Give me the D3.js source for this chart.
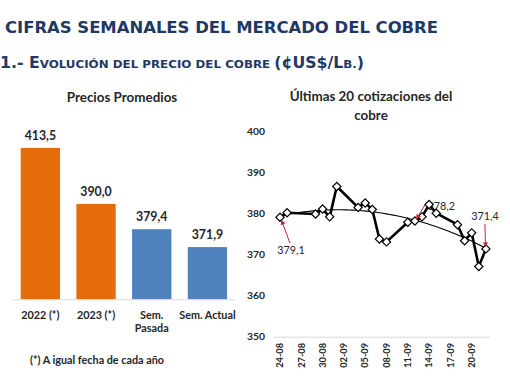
<!DOCTYPE html>
<html><head><meta charset="utf-8">
<script src="https://cdn.jsdelivr.net/npm/d3@7"></script>
<style>
html,body{margin:0;padding:0;background:#fff;}
svg{display:block;}
</style></head>
<body>
<svg id="c" width="510" height="382"></svg>
<script>
// ---- data ----
const barCategories = [["2022 (*)"], ["2023 (*)"], ["Sem.", "Pasada"], ["Sem. Actual"]];
const barValues = [413.5, 390.0, 379.4, 371.9];
const barLabels = ["413,5", "390,0", "379,4", "371,9"];
const barColors = ["#E46C0A", "#E46C0A", "#4F81BD", "#4F81BD"];

const quoteDates = ["2023-08-24","2023-08-25","2023-08-29","2023-08-30","2023-08-31",
  "2023-09-01","2023-09-04","2023-09-05","2023-09-06","2023-09-07","2023-09-08",
  "2023-09-11","2023-09-12","2023-09-13","2023-09-14","2023-09-15",
  "2023-09-18","2023-09-19","2023-09-20","2023-09-21","2023-09-22"];
const quoteValues = [379.1, 380.2, 379.9, 381.1, 379.2,
  386.6, 381.5, 382.6, 381.0, 373.8, 373.1,
  377.9, 378.2, 379.2, 382.2, 380.1,
  377.3, 373.4, 375.3, 367.1, 371.4];
const annotated = [0, 12, 20];
const annotLabels = ["379,1", "378,2", "371,4"];
const yTicks = [350, 360, 370, 380, 390, 400];
const xTickDates = ["2023-08-24","2023-08-27","2023-08-30","2023-09-02","2023-09-05",
  "2023-09-08","2023-09-11","2023-09-14","2023-09-17","2023-09-20"];

const svg = d3.select("#c");
const navy = "#1F3864";
const txt = "#262626";
const font = "Lato, 'Open Sans', sans-serif";
const red = "#C0283A";

svg.append("defs").append("marker").attr("id", "ah")
  .attr("viewBox", "0 0 10 10").attr("refX", 9).attr("refY", 5)
  .attr("markerWidth", 5).attr("markerHeight", 5).attr("orient", "auto")
  .append("path").attr("d", "M0,0L10,5L0,10Z").attr("fill", red);

// ---- headers ----
svg.append("text").attr("x", 5).attr("y", 33.3)
  .attr("font-family", "'DejaVu Sans', Verdana, sans-serif").attr("font-weight", "bold")
  .attr("font-size", 16).attr("fill", navy)
  .attr("textLength", 433).attr("lengthAdjust", "spacingAndGlyphs")
  .text("CIFRAS SEMANALES DEL MERCADO DEL COBRE");

const sub = svg.append("text").attr("x", 0).attr("y", 68.3)
  .attr("font-family", "'DejaVu Sans', Verdana, sans-serif").attr("font-weight", "bold")
  .attr("fill", navy).attr("textLength", 364).attr("lengthAdjust", "spacingAndGlyphs");
[["1.- E", 15], ["VOLUCIÓN DEL PRECIO DEL COBRE ", 11.3], ["(¢US$/L", 15], ["B.", 11.3], [")", 15]]
  .forEach(([t, s]) => sub.append("tspan").attr("font-size", s).text(t));

// ---- left chart: bars ----
const xb = d3.scaleBand().domain(d3.range(barValues.length))
  .range([12.5, 235.3]).paddingInner(0.294).paddingOuter(0.147);
const yb = d3.scaleLinear().domain([350, 430]).range([299.3, 108.6]);

svg.append("text").attr("x", 122).attr("y", 101.5).attr("text-anchor", "middle")
  .attr("font-family", font).attr("font-weight", "bold").attr("font-size", 13.4)
  .attr("fill", txt).text("Precios Promedios");

svg.selectAll("rect.bar").data(barValues).enter().append("rect").attr("class", "bar")
  .attr("x", (d, i) => xb(i)).attr("width", xb.bandwidth())
  .attr("y", d => yb(d)).attr("height", d => yb(350) - yb(d))
  .attr("fill", (d, i) => barColors[i]);

svg.append("line").attr("x1", 12.5).attr("x2", 235.3)
  .attr("y1", yb(350) + 0.5).attr("y2", yb(350) + 0.5)
  .attr("stroke", "#d9d9d9").attr("stroke-width", 1);

svg.selectAll("text.bv").data(barValues).enter().append("text").attr("class", "bv")
  .attr("x", (d, i) => xb(i) + xb.bandwidth() / 2).attr("y", d => yb(d) - 8)
  .attr("text-anchor", "middle").attr("font-family", font).attr("font-weight", "bold")
  .attr("font-size", 12.3).attr("fill", txt).text((d, i) => barLabels[i]);

barCategories.forEach((lines, i) => {
  const t = svg.append("text").attr("text-anchor", "middle")
    .attr("font-family", font).attr("font-weight", "bold").attr("font-size", 10.8).attr("fill", txt);
  lines.forEach((l, j) => t.append("tspan").attr("x", xb(i) + xb.bandwidth() / 2)
    .attr("y", 318.7 + j * 13.3).text(l));
});

svg.append("text").attr("x", 30).attr("y", 363.5)
  .attr("font-family", font).attr("font-weight", "bold").attr("font-size", 10.8)
  .attr("fill", txt).text("(*) A igual fecha de cada año");

// ---- right chart: line ----
const parse = d3.timeParse("%Y-%m-%d");
const pts = quoteDates.map((d, i) => ({ date: parse(d), v: quoteValues[i] }));
const xl = d3.scaleTime().domain([parse("2023-08-23"), parse("2023-09-23")]).range([272.9, 493]);
const yl = d3.scaleLinear().domain([350, 400]).range([336.7, 131.5]);

const rt = svg.append("text").attr("text-anchor", "middle")
  .attr("font-family", font).attr("font-weight", "bold").attr("font-size", 13.4).attr("fill", txt);
rt.append("tspan").attr("x", 371).attr("y", 101).text("Últimas 20 cotizaciones del");
rt.append("tspan").attr("x", 371).attr("y", 119.5).text("cobre");

svg.selectAll("text.yt").data(yTicks).enter().append("text").attr("class", "yt")
  .attr("x", 265).attr("y", d => yl(d) + 3.5).attr("text-anchor", "end")
  .attr("font-family", font).attr("font-weight", "bold").attr("font-size", 10.3)
  .attr("fill", txt).text(d => d);

svg.append("line").attr("x1", 273).attr("x2", 490)
  .attr("y1", yl(350) + 0.5).attr("y2", yl(350) + 0.5)
  .attr("stroke", "#d9d9d9").attr("stroke-width", 1);

const fmt = d3.timeFormat("%d-%m");
xTickDates.map(parse).forEach(d => {
  svg.append("text").attr("transform", `translate(${xl(d) + 3.2},343) rotate(-90)`)
    .attr("text-anchor", "end").attr("font-family", font).attr("font-weight", "bold")
    .attr("font-size", 9.2).attr("fill", txt).text(fmt(d));
});

// polynomial (order 2) trend computed from data by least squares
const t0 = pts[0].date;
const dx = p => (p.date - t0) / 864e5;
(function () {
  const n = pts.length;
  let S = [0, 0, 0, 0, 0], T = [0, 0, 0];
  pts.forEach(p => {
    const x = dx(p);
    for (let k = 0; k < 5; k++) S[k] += Math.pow(x, k);
    for (let k = 0; k < 3; k++) T[k] += p.v * Math.pow(x, k);
  });
  const A = [[S[0], S[1], S[2], T[0]], [S[1], S[2], S[3], T[1]], [S[2], S[3], S[4], T[2]]];
  for (let i = 0; i < 3; i++) {
    for (let j = i + 1; j < 3; j++) {
      const f = A[j][i] / A[i][i];
      for (let k = i; k < 4; k++) A[j][k] -= f * A[i][k];
    }
  }
  const c = [0, 0, 0];
  for (let i = 2; i >= 0; i--) {
    let s = A[i][3];
    for (let k = i + 1; k < 3; k++) s -= A[i][k] * c[k];
    c[i] = s / A[i][i];
  }
  const span = dx(pts[n - 1]);
  const trend = d3.range(0, span + 0.001, span / 60).map(x => ({
    date: new Date(+t0 + x * 864e5), v: c[0] + c[1] * x + c[2] * x * x }));
  svg.append("path").datum(trend)
    .attr("d", d3.line().x(d => xl(d.date)).y(d => yl(d.v)).curve(d3.curveBasis))
    .attr("fill", "none").attr("stroke", "#000").attr("stroke-width", 1.1);
})();

svg.append("path").datum(pts)
  .attr("d", d3.line().x(d => xl(d.date)).y(d => yl(d.v)))
  .attr("fill", "none").attr("stroke", "#000").attr("stroke-width", 2.6)
  .attr("stroke-linejoin", "round");

// annotations (labels under markers)
const annOff = [{ tx: 11, ty: 37, anchor: "middle", from: [10, 26], to: [1.5, 3] },
                { tx: 12.5, ty: -10.5, anchor: "start", from: [10, -16], to: [1.5, -2] },
                { tx: -1, ty: -28.8, anchor: "middle", from: [-1, -25], to: [-0.3, -2] }];
annotated.forEach((idx, k) => {
  const p = pts[idx], x = xl(p.date), y = yl(p.v), o = annOff[k];
  svg.append("text").attr("x", x + o.tx).attr("y", y + o.ty).attr("text-anchor", o.anchor)
    .attr("font-family", font).attr("font-size", 10.8).attr("fill", txt).text(annotLabels[k]);
});

svg.selectAll("path.mk").data(pts).enter().append("path").attr("class", "mk")
  .attr("d", d3.symbol().type(d3.symbolSquare).size(34))
  .attr("transform", d => `translate(${xl(d.date)},${yl(d.v)}) rotate(45)`)
  .attr("fill", "#fff").attr("stroke", "#000").attr("stroke-width", 1.2);

annotated.forEach((idx, k) => {
  const p = pts[idx], x = xl(p.date), y = yl(p.v), o = annOff[k];
  svg.append("line").attr("x1", x + o.from[0]).attr("y1", y + o.from[1])
    .attr("x2", x + o.to[0]).attr("y2", y + o.to[1])
    .attr("stroke", red).attr("stroke-width", 1).attr("marker-end", "url(#ah)");
});
</script>
</body></html>
